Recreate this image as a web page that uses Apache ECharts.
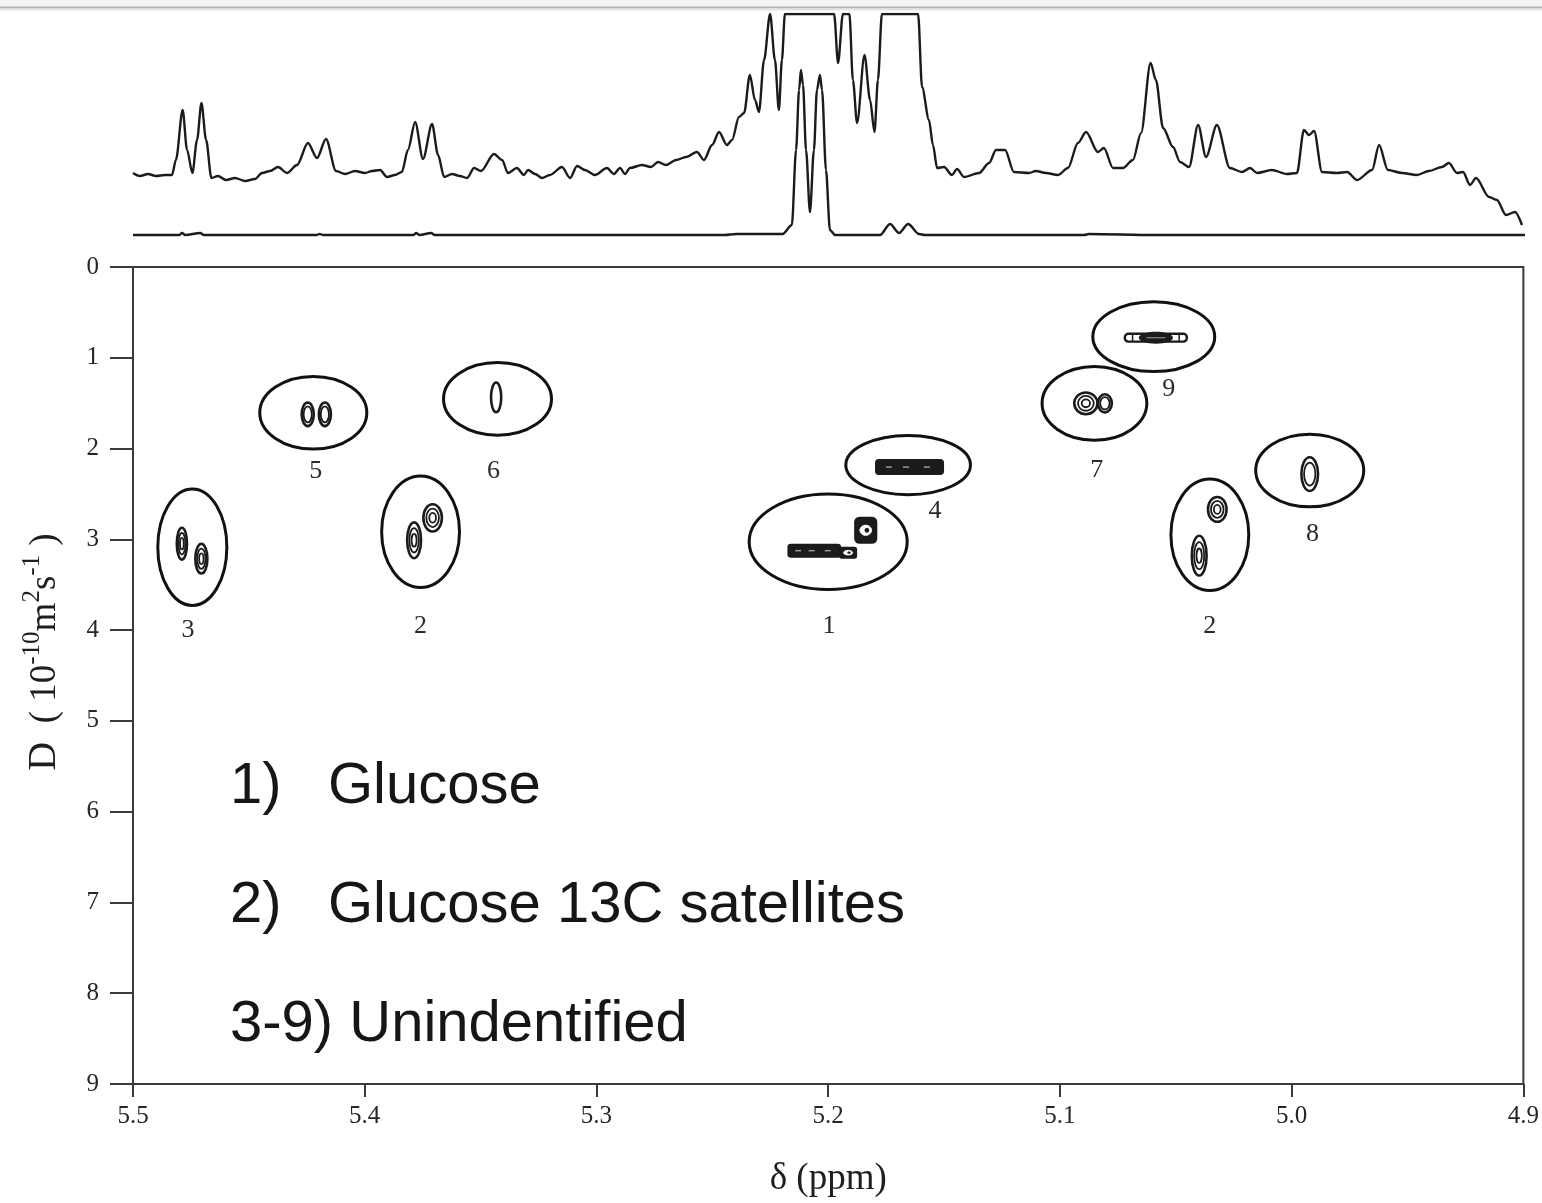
<!DOCTYPE html>
<html>
<head>
<meta charset="utf-8">
<script src="https://cdn.jsdelivr.net/npm/echarts@6/dist/echarts.min.js"></script>
<style>
html, body { margin: 0; padding: 0; background: #fff; }
#chart { width: 1542px; height: 1203px; }
</style>
</head>
<body>
<div id="chart"></div>
<script>
// ---- 1D projections above the DOSY map: [chemical shift (ppm), intensity] ----
const projectionUpper = [
  [5.5000, 62], [5.4970, 59], [5.4935, 61], [5.4901, 59], [5.4862, 60], [5.4832, 60],
  [5.4815, 75], [5.4786, 125], [5.4767, 85], [5.4744, 62], [5.4724, 95], [5.4705, 132],
  [5.4685, 95], [5.4662, 57], [5.4634, 59], [5.4599, 55], [5.4560, 57], [5.4517, 54],
  [5.4474, 56], [5.4444, 62], [5.4409, 64], [5.4375, 68], [5.4336, 62], [5.4293, 70],
  [5.4246, 92], [5.4207, 77], [5.4168, 96], [5.4125, 64], [5.4086, 61], [5.4043, 64],
  [5.4000, 62], [5.3970, 64], [5.3935, 65], [5.3905, 58], [5.3871, 60], [5.3841, 63],
  [5.3815, 85], [5.3784, 113], [5.3750, 76], [5.3711, 111], [5.3685, 80], [5.3659, 58],
  [5.3625, 61], [5.3591, 59], [5.3560, 57], [5.3530, 67], [5.3500, 64], [5.3444, 81],
  [5.3409, 75], [5.3384, 62], [5.3345, 67], [5.3315, 60], [5.3297, 65], [5.3267, 61],
  [5.3237, 57], [5.3203, 60], [5.3151, 68], [5.3116, 57], [5.3086, 69], [5.3052, 65],
  [5.3009, 60], [5.2957, 67], [5.2927, 61], [5.2901, 67], [5.2879, 61], [5.2858, 67],
  [5.2806, 70], [5.2767, 68], [5.2737, 73], [5.2703, 70], [5.2659, 75], [5.2616, 78],
  [5.2569, 83], [5.2539, 75], [5.2504, 90], [5.2474, 103], [5.2440, 90], [5.2418, 95],
  [5.2388, 118], [5.2366, 122], [5.2341, 160], [5.2319, 135], [5.2302, 123], [5.2280, 175],
  [5.2254, 221], [5.2233, 175], [5.2216, 125], [5.2203, 175], [5.2190, 221], [5.1978, 221],
  [5.1961, 172], [5.1940, 221], [5.1912, 221], [5.1897, 155], [5.1879, 112], [5.1847, 180],
  [5.1823, 135], [5.1804, 103], [5.1789, 155], [5.1772, 221], [5.1616, 221], [5.1599, 148],
  [5.1569, 115], [5.1552, 90], [5.1534, 67], [5.1504, 68], [5.1470, 60], [5.1448, 66],
  [5.1418, 58], [5.1353, 62], [5.1310, 72], [5.1280, 85], [5.1241, 85], [5.1203, 63],
  [5.1138, 62], [5.1108, 64], [5.1065, 62], [5.1013, 60], [5.0970, 67], [5.0927, 92],
  [5.0892, 103], [5.0841, 83], [5.0815, 87], [5.0776, 67], [5.0733, 67], [5.0690, 75],
  [5.0655, 102], [5.0614, 172], [5.0591, 155], [5.0560, 107], [5.0517, 88], [5.0487, 73],
  [5.0448, 68], [5.0409, 110], [5.0375, 78], [5.0328, 110], [5.0272, 67], [5.0220, 63],
  [5.0185, 67], [5.0155, 62], [5.0091, 65], [5.0026, 61], [4.9983, 62], [4.9953, 105],
  [4.9931, 100], [4.9909, 104], [4.9875, 63], [4.9810, 62], [4.9767, 63], [4.9724, 55],
  [4.9659, 65], [4.9629, 90], [4.9591, 65], [4.9530, 62], [4.9466, 60], [4.9414, 64],
  [4.9358, 68], [4.9328, 72], [4.9293, 62], [4.9267, 63], [4.9237, 50], [4.9211, 57],
  [4.9155, 38], [4.9121, 35], [4.9082, 20], [4.9043, 23], [4.9013, 10]
];

const projectionLower = [
  [5.5000, 0], [5.4800, 0], [5.4789, 2], [5.4775, 0], [5.4710, 2], [5.4695, 0],
  [5.4210, 0], [5.4195, 1], [5.4180, 0], [5.3790, 0], [5.3780, 2], [5.3765, 0],
  [5.3715, 2], [5.3700, 0], [5.2450, 0], [5.2400, 1], [5.2200, 1], [5.2160, 10],
  [5.2142, 85], [5.2129, 145], [5.2121, 165], [5.2112, 150], [5.2099, 85], [5.2082, 23],
  [5.2065, 85], [5.2052, 145], [5.2039, 160], [5.2030, 145], [5.2013, 65], [5.1996, 5],
  [5.1974, 0], [5.1780, 0], [5.1737, 11], [5.1698, 2], [5.1659, 11], [5.1612, 1],
  [5.1586, 0], [5.0900, 0], [5.0880, 1], [5.0600, 0], [4.9000, 0]
];

// ---- DOSY cross peaks: centre (ppm, D / 1e-10 m2 s-1) and half-spread in each dimension ----
const peakShift       = [5.4789, 5.4705, 5.4246, 5.4172, 5.3433, 5.3787, 5.3707, 5.2060, 5.1914, 5.1838, 5.1649, 5.0586, 5.0888, 5.0806, 4.9922, 5.0321, 5.0399];
const peakDiff        = [3.048, 3.213, 1.623, 1.623, 1.436, 3.010, 2.763, 3.125, 3.147, 2.900, 2.204, 0.779, 1.502, 1.502, 2.281, 2.670, 3.180];
const peakShiftSpread = [0.0022, 0.0026, 0.0026, 0.0026, 0.0022, 0.0030, 0.0040, 0.0116, 0.0039, 0.0050, 0.0149, 0.0134, 0.0050, 0.0030, 0.0036, 0.0040, 0.0032];
const peakDiffSpread  = [0.175, 0.164, 0.130, 0.130, 0.164, 0.197, 0.150, 0.077, 0.066, 0.148, 0.088, 0.066, 0.120, 0.100, 0.186, 0.137, 0.219];
const peakForm        = ['ring', 'ring', 'ring', 'ring', 'ring', 'ring', 'ring', 'bar', 'block', 'block', 'bar', 'spindle', 'ring', 'ring', 'ring', 'ring', 'ring'];
const peakLevels      = [3, 3, 2, 2, 1, 3, 3, 1, 1, 1, 1, 1, 3, 2, 2, 3, 3];

// ---- circled components ----
const groupName        = ['3', '5', '6', '2', '1', '4', '9', '7', '8', '2'];
const groupShift       = [5.4744, 5.4222, 5.3427, 5.3759, 5.2000, 5.1655, 5.0595, 5.0851, 4.9922, 5.0353];
const groupDiff        = [3.087, 1.606, 1.453, 2.917, 3.026, 2.182, 0.768, 1.502, 2.242, 2.950];
const groupShiftRadius = [0.0149, 0.0231, 0.0233, 0.0168, 0.0341, 0.0269, 0.0263, 0.0226, 0.0233, 0.0168];
const groupDiffRadius  = [0.641, 0.400, 0.400, 0.614, 0.526, 0.326, 0.384, 0.406, 0.400, 0.614];
const groupLabelShift  = [5.4763, 5.4211, 5.3444, 5.3759, 5.1996, 5.1539, 5.0530, 5.0841, 4.9910, 5.0353];
const groupLabelDiff   = [4.002, 2.248, 2.248, 3.958, 3.958, 2.686, 1.349, 2.237, 2.939, 3.958];

// ---- axes ----
const shiftMin = 4.9, shiftMax = 5.5, shiftStep = 0.1;
const diffMin = 0, diffMax = 9, diffStep = 1;

// ---- key ----
const keyMarks = ['1)', '2)', '3-9) Unindentified'];
const keyTexts = ['Glucose', 'Glucose 13C satellites', ''];

const INK = '#1b1b1b';
const AXIS = '#3a3a3a';
const SERIF = '"Liberation Serif", "DejaVu Serif", serif';
const SANS = '"Liberation Sans", Arial, sans-serif';

const chart = echarts.init(document.getElementById('chart'), null, { renderer: 'canvas' });

function peakItem(params, api) {
  const i = params.dataIndex;
  const c = api.coord([api.value(0), api.value(1)]);
  const s = api.size([api.value(2), api.value(3)], [api.value(0), api.value(1)]);
  const hw = Math.abs(s[0]), hh = Math.abs(s[1]);
  const form = peakForm[i];
  const n = peakLevels[i];
  const kids = [];
  if (form === 'ring') {
    for (let k = 0; k < n; k++) {
      const f = 1 - k * 0.32;
      kids.push({ type: 'ellipse', shape: { cx: c[0], cy: c[1], rx: hw * f, ry: hh * f },
        style: { fill: 'none', stroke: INK, lineWidth: k === 0 ? 2.6 : 1.8 } });
    }
  } else if (form === 'bar') {
    kids.push({ type: 'rect', shape: { x: c[0] - hw, y: c[1] - hh, width: hw * 2, height: hh * 2, r: hh * 0.5 },
      style: { fill: INK } });
    [0.2, 0.45, 0.75].forEach(function (p) {
      kids.push({ type: 'line', shape: { x1: c[0] - hw + hw * 2 * p - 3, y1: c[1], x2: c[0] - hw + hw * 2 * p + 3, y2: c[1] },
        style: { stroke: '#9a9a9a', lineWidth: 1.5 } });
    });
  } else if (form === 'block') {
    kids.push({ type: 'rect', shape: { x: c[0] - hw, y: c[1] - hh, width: hw * 2, height: hh * 2, r: Math.min(hw, hh) * 0.45 },
      style: { fill: INK } });
    kids.push({ type: 'ellipse', shape: { cx: c[0], cy: c[1], rx: hw * 0.5, ry: hh * 0.38 },
      style: { fill: '#fff', stroke: '#fff', lineWidth: 1 } });
    kids.push({ type: 'ellipse', shape: { cx: c[0] + hw * 0.1, cy: c[1], rx: hw * 0.2, ry: hh * 0.18 },
      style: { fill: INK } });
  } else if (form === 'spindle') {
    kids.push({ type: 'rect', shape: { x: c[0] - hw, y: c[1] - hh * 0.65, width: hw * 2, height: hh * 1.3, r: hh * 0.6 },
      style: { fill: 'none', stroke: INK, lineWidth: 2.4 } });
    kids.push({ type: 'ellipse', shape: { cx: c[0], cy: c[1], rx: hw * 0.55, ry: hh },
      style: { fill: INK } });
    [-0.75, -0.45, 0.45, 0.75].forEach(function (p) {
      kids.push({ type: 'line', shape: { x1: c[0] + hw * p, y1: c[1] - hh * 0.6, x2: c[0] + hw * p, y2: c[1] + hh * 0.6 },
        style: { stroke: INK, lineWidth: 1.5 } });
    });
    kids.push({ type: 'line', shape: { x1: c[0] - hw * 0.3, y1: c[1], x2: c[0] + hw * 0.3, y2: c[1] },
      style: { stroke: '#8a8a8a', lineWidth: 1.2 } });
  }
  return { type: 'group', children: kids };
}

function groupItem(params, api) {
  const i = params.dataIndex;
  const c = api.coord([api.value(0), api.value(1)]);
  const s = api.size([api.value(2), api.value(3)], [api.value(0), api.value(1)]);
  const lp = api.coord([groupLabelShift[i], groupLabelDiff[i]]);
  return {
    type: 'group',
    children: [
      { type: 'ellipse', shape: { cx: c[0], cy: c[1], rx: Math.abs(s[0]), ry: Math.abs(s[1]) },
        style: { fill: 'none', stroke: '#111', lineWidth: 3 } },
      { type: 'text', x: lp[0], y: lp[1],
        style: { text: groupName[i], font: '26px ' + SERIF, fill: '#2a2a2a',
                 align: 'center', verticalAlign: 'middle', textAlign: 'center', textVerticalAlign: 'middle' } }
    ]
  };
}

const keyGraphics = [];
const keyRowsY = [787, 906, 1025];
keyMarks.forEach(function (m, i) {
  keyGraphics.push({ type: 'text', x: 230, y: keyRowsY[i],
    style: { text: m, font: '58px ' + SANS, fill: '#161616', textVerticalAlign: 'middle', verticalAlign: 'middle' } });
  if (keyTexts[i]) {
    keyGraphics.push({ type: 'text', x: 328, y: keyRowsY[i],
      style: { text: keyTexts[i], font: '58px ' + SANS, fill: '#161616', textVerticalAlign: 'middle', verticalAlign: 'middle' } });
  }
});

const option = {
  animation: false,
  backgroundColor: '#fff',
  grid: [
    { left: 133, right: 17, top: 267, bottom: 115, show: true, borderColor: AXIS, borderWidth: 2, backgroundColor: 'transparent' },
    { left: 133, right: 17, top: 14, height: 226 }
  ],
  xAxis: [
    {
      gridIndex: 0, type: 'value', inverse: true, min: shiftMin, max: shiftMax, interval: shiftStep,
      position: 'bottom',
      name: 'δ (ppm)', nameLocation: 'middle', nameGap: 77,
      nameTextStyle: { fontFamily: SERIF, fontSize: 37, color: '#1e1e1e' },
      axisLine: { show: true, onZero: false, lineStyle: { color: AXIS, width: 2 } },
      axisTick: { show: true, length: 13, lineStyle: { color: AXIS, width: 2 } },
      axisLabel: { margin: 20, fontFamily: SERIF, fontSize: 25, color: '#262626',
                   formatter: function (v) { return v.toFixed(1); } },
      splitLine: { show: false }
    },
    {
      gridIndex: 1, type: 'value', inverse: true, min: shiftMin, max: shiftMax, show: false
    }
  ],
  yAxis: [
    {
      gridIndex: 0, type: 'value', inverse: true, min: diffMin, max: diffMax, interval: diffStep,
      position: 'left',
      axisLine: { show: true, onZero: false, lineStyle: { color: AXIS, width: 2 } },
      axisTick: { show: true, length: 23, lineStyle: { color: AXIS, width: 2 } },
      axisLabel: { margin: 34, fontFamily: SERIF, fontSize: 25, color: '#262626' },
      splitLine: { show: false }
    },
    {
      gridIndex: 1, type: 'value', min: -5, max: 221, show: false
    }
  ],
  graphic: [
    { type: 'rect', shape: { x: 0, y: 0, width: 1542, height: 7 }, style: { fill: '#f3f3f3' }, silent: true },
    { type: 'line', shape: { x1: 0, y1: 7.5, x2: 1542, y2: 7.5 }, style: { stroke: '#b4b4b4', lineWidth: 2 }, silent: true },
    { type: 'line', shape: { x1: 0, y1: 9.5, x2: 1542, y2: 9.5 }, style: { stroke: '#e4e4e4', lineWidth: 2 }, silent: true },
    {
      type: 'text', x: 42, y: 652, rotation: Math.PI / 2,
      style: {
        text: '{d|D}{t|  ( 10}{s|-10}{t|m}{s|2}{t|s}{s|-1}{t| )}',
        align: 'center', verticalAlign: 'middle', textAlign: 'center', textVerticalAlign: 'middle',
        rich: {
          d: { fontFamily: SERIF, fontSize: 40, fill: '#1e1e1e', color: '#1e1e1e', lineHeight: 44, verticalAlign: 'bottom' },
          t: { fontFamily: SERIF, fontSize: 37, fill: '#1e1e1e', color: '#1e1e1e', lineHeight: 44, verticalAlign: 'bottom' },
          s: { fontFamily: SERIF, fontSize: 25, fill: '#1e1e1e', color: '#1e1e1e', lineHeight: 25, verticalAlign: 'top' }
        }
      }
    }
  ].concat(keyGraphics),
  series: [
    {
      type: 'line', xAxisIndex: 1, yAxisIndex: 1, data: projectionUpper,
      showSymbol: false, symbol: 'none', clip: true, smooth: 0.3, smoothMonotone: 'x',
      lineStyle: { color: INK, width: 2.4 }
    },
    {
      type: 'line', xAxisIndex: 1, yAxisIndex: 1, data: projectionLower,
      showSymbol: false, symbol: 'none', clip: false, smooth: 0.3, smoothMonotone: 'x',
      lineStyle: { color: INK, width: 2.4 }
    },
    {
      type: 'custom', xAxisIndex: 0, yAxisIndex: 0, renderItem: groupItem,
      data: groupShift.map(function (v, i) { return [v, groupDiff[i], groupShiftRadius[i], groupDiffRadius[i]]; })
    },
    {
      type: 'custom', xAxisIndex: 0, yAxisIndex: 0, renderItem: peakItem,
      data: peakShift.map(function (v, i) { return [v, peakDiff[i], peakShiftSpread[i], peakDiffSpread[i]]; })
    }
  ]
};

chart.setOption(option);
</script>
</body>
</html>
